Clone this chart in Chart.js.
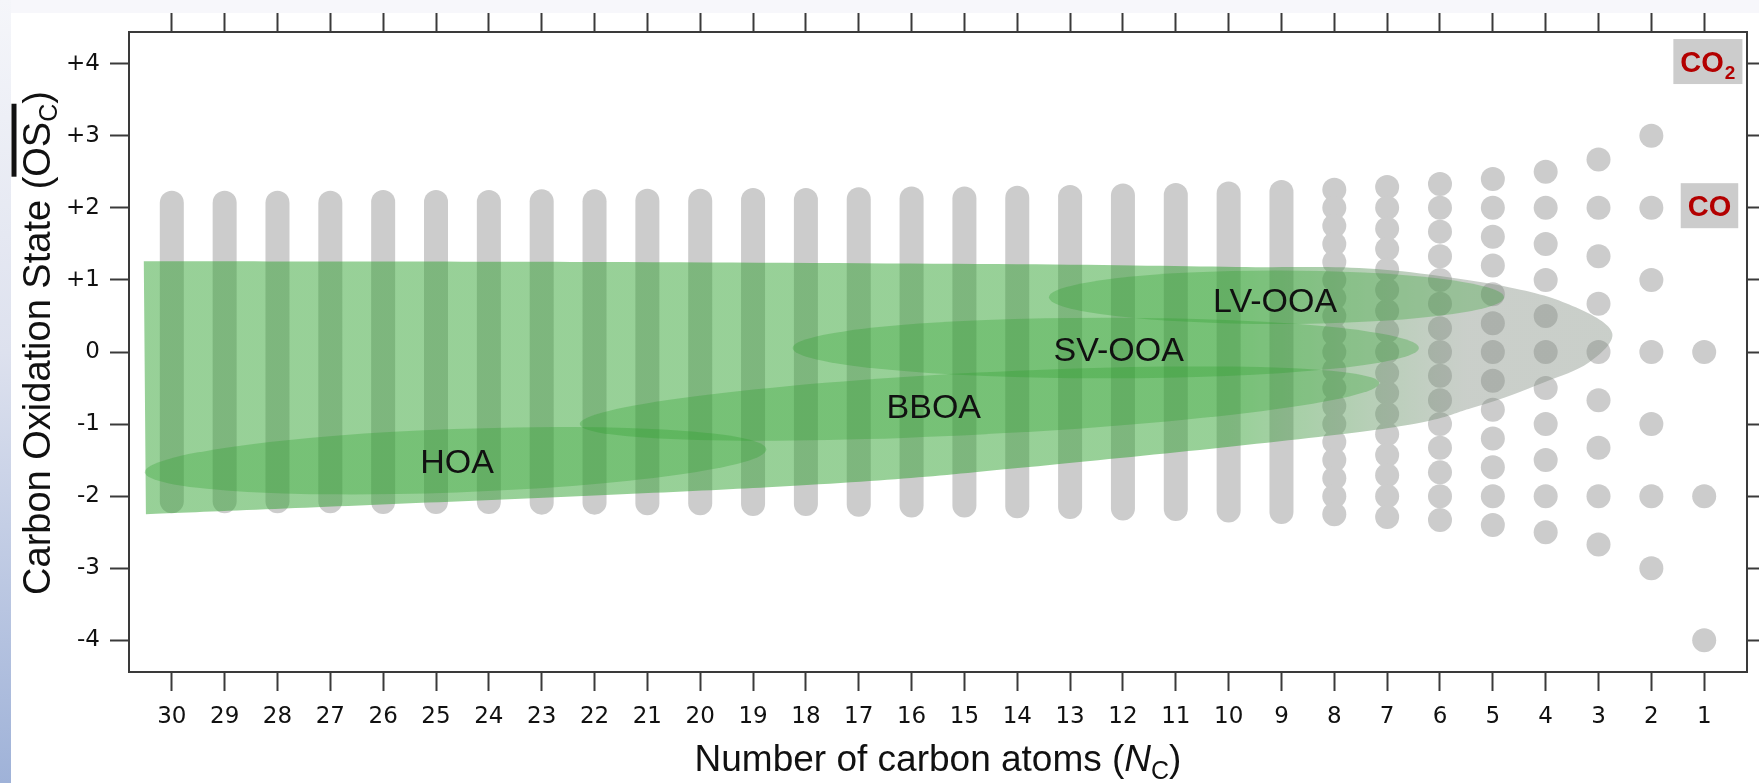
<!DOCTYPE html>
<html>
<head>
<meta charset="utf-8">
<script src="https://cdn.jsdelivr.net/npm/chart.js@4.4.1/dist/chart.umd.min.js"></script>
<style>
html,body{margin:0;padding:0;background:#fff;overflow:hidden}
canvas{display:block}
</style>
</head>
<body>
<canvas id="c" width="1759" height="783"></canvas>
<script>
// ---------- tick values / labels ----------
const nCTicks = [30,29,28,27,26,25,24,23,22,21,20,19,18,17,16,15,14,13,12,11,10,9,8,7,6,5,4,3,2,1];
const osTicks = [-4,-3,-2,-1,0,1,2,3,4];
const osTickLabels = ['-4','-3','-2','-1','0','+1','+2','+3','+4'];

// ---------- possible OSc values: individual dots for small molecules ----------
const osN1 = [0, -2, -4];
const osN2 = [3, 2, 1, 0, -1, -2, -3];
const osN3 = [2.67, 2, 1.33, 0.67, 0, -0.67, -1.33, -2, -2.67];
const osN4 = [2.5, 2, 1.5, 1, 0.5, 0, -0.5, -1, -1.5, -2, -2.5];
const osN5 = [2.4, 2, 1.6, 1.2, 0.8, 0.4, 0, -0.4, -0.8, -1.2, -1.6, -2, -2.4];
const osN6 = [2.33, 2, 1.67, 1.33, 1, 0.67, 0.33, 0, -0.33, -0.67, -1, -1.33, -1.67, -2, -2.33];
const osN7 = [2.29, 2, 1.71, 1.43, 1.14, 0.86, 0.57, 0.29, 0, -0.29, -0.57, -0.86, -1.14, -1.43, -1.71, -2, -2.29];
const osN8 = [2.25, 2, 1.75, 1.5, 1.25, 1, 0.75, 0.5, 0.25, 0, -0.25, -0.5, -0.75, -1, -1.25, -1.5, -1.75, -2, -2.25];

// ---------- dense columns (overlapping dots): extreme OSc per column ----------
const denseN      = [9, 10, 11, 12, 13, 14, 15, 16, 17, 18, 19, 20, 21, 22, 23, 24, 25, 26, 27, 28, 29, 30];
const denseTopOS  = [2.22, 2.20, 2.18, 2.17, 2.15, 2.14, 2.13, 2.13, 2.12, 2.11, 2.11, 2.10, 2.10, 2.09, 2.09, 2.08, 2.08, 2.08, 2.07, 2.07, 2.07, 2.07];
const denseLowOS  = [-2.22, -2.20, -2.18, -2.17, -2.15, -2.14, -2.13, -2.13, -2.12, -2.11, -2.11, -2.10, -2.10, -2.09, -2.09, -2.08, -2.08, -2.08, -2.07, -2.07, -2.07, -2.07];

// ---------- ambient OA envelope outline (nC, OSc) ----------
const envelopeN  = [30.53, 21.92, 14.38, 9.85, 7.21, 4.70, 3.43, 2.74, 3.19, 4.06, 5.32, 7.21, 13.43, 18.72, 30.49];
const envelopeOS = [1.26, 1.25, 1.22, 1.18, 1.15, 0.90, 0.62, 0.26, -0.15, -0.43, -0.76, -1.08, -1.57, -1.875, -2.25];

// ---------- factor ellipses (end points + half height) ----------
const factorNames     = ['HOA', 'BBOA', 'SV-OOA', 'LV-OOA'];
const factorLeftN     = [30.51, 22.28, 18.25, 13.40];
const factorLeftOS    = [-1.667, -1.00, 0.056, 0.76];
const factorRightN    = [18.75, 7.15, 6.40, 4.79];
const factorRightOS   = [-1.35, -0.43, 0.056, 0.76];
const factorHalfOS    = [0.44, 0.43, 0.42, 0.37];
const factorLabelN    = [24.6, 15.58, 12.08, 9.12];
const factorLabelOS   = [-1.68, -0.917, -0.125, 0.556];

// ---------- gas-phase species ----------
const speciesNames = ['CO', 'CO2'];
const speciesN     = [0.9, 0.93];
const speciesOS    = [2.03, 4.03];

// =====================================================================
const FONT = "'Liberation Sans', Arial, Helvetica, sans-serif";
const TICKFONT = "'DejaVu Sans', 'Liberation Sans', sans-serif";
Chart.defaults.font.family = FONT;
Chart.defaults.color = '#111';

const DOT = '#cccccc';
const AXIS = '#3a3a3a';

const dotColumns = [[1, osN1],[2, osN2],[3, osN3],[4, osN4],[5, osN5],[6, osN6],[7, osN7],[8, osN8]];
const dotData = [];
dotColumns.forEach(([n, vals]) => vals.forEach(v => dotData.push({x: n, y: v})));

const denseDatasets = denseN.map((n, i) => ({
  type: 'line',
  data: [{x: n, y: denseLowOS[i]}, {x: n, y: denseTopOS[i]}],
  borderColor: DOT,
  borderWidth: 24,
  borderCapStyle: 'round',
  pointRadius: 0,
  fill: false,
  tension: 0,
  order: 3
}));

const datasets = [
  {
    type: 'scatter',
    data: dotData,
    pointRadius: 12,
    pointBackgroundColor: DOT,
    pointBorderWidth: 0,
    order: 3
  },
  ...denseDatasets
];

function curveThrough(ctx, pts) {
  ctx.moveTo(pts[0][0], pts[0][1]);
  for (let i = 0; i < pts.length - 1; i++) {
    const p0 = pts[Math.max(i - 1, 0)], p1 = pts[i], p2 = pts[i + 1], p3 = pts[Math.min(i + 2, pts.length - 1)];
    const c1x = p1[0] + (p2[0] - p0[0]) / 6, c1y = p1[1] + (p2[1] - p0[1]) / 6;
    const c2x = p2[0] - (p3[0] - p1[0]) / 6, c2y = p2[1] - (p3[1] - p1[1]) / 6;
    ctx.bezierCurveTo(c1x, c1y, c2x, c2y, p2[0], p2[1]);
  }
}

function drawRuns(ctx, runs, x, y) {
  let cx = x;
  const overs = [];
  runs.forEach(r => {
    ctx.font = r.font;
    const w = ctx.measureText(r.t).width;
    ctx.fillText(r.t, cx, y + (r.dy || 0));
    if (r.over) overs.push([cx, w]);
    cx += w;
  });
  return overs;
}
function runsWidth(ctx, runs) {
  let w = 0;
  runs.forEach(r => { ctx.font = r.font; w += ctx.measureText(r.t).width; });
  return w;
}

const overlayPlugin = {
  id: 'overlay',
  beforeDraw(chart) {
    const c = chart.ctx, W = chart.width, H = chart.height;
    c.save();
    c.fillStyle = '#f7f7fb';
    c.fillRect(0, 0, W, H);
    c.fillStyle = '#ffffff';
    c.fillRect(11, 13, W - 11, H - 13);
    const g = c.createLinearGradient(0, 0, 0, H);
    g.addColorStop(0, '#f5f6fa');
    g.addColorStop(0.45, '#dde1ee');
    g.addColorStop(1, '#9fb2d8');
    c.fillStyle = g;
    c.fillRect(0, 0, 11, H);
    c.restore();
  },
  afterDatasetsDraw(chart) {
    const c = chart.ctx, xs = chart.scales.x, ys = chart.scales.y, a = chart.chartArea;
    c.save();
    c.beginPath();
    c.rect(a.left, a.top, a.right - a.left, a.bottom - a.top);
    c.clip();

    // envelope
    const pts = envelopeN.map((n, i) => [xs.getPixelForValue(n), ys.getPixelForValue(envelopeOS[i])]);
    const g = c.createLinearGradient(xs.getPixelForValue(10), 0, xs.getPixelForValue(5.5), 0);
    g.addColorStop(0, 'rgba(44,160,44,0.49)');
    g.addColorStop(1, 'rgba(128,140,128,0.42)');
    c.beginPath();
    curveThrough(c, pts);
    c.closePath();
    c.fillStyle = g;
    c.fill();

    // factor ellipses
    factorNames.forEach((name, i) => {
      const x1 = xs.getPixelForValue(factorLeftN[i]), y1 = ys.getPixelForValue(factorLeftOS[i]);
      const x2 = xs.getPixelForValue(factorRightN[i]), y2 = ys.getPixelForValue(factorRightOS[i]);
      const cx = (x1 + x2) / 2, cy = (y1 + y2) / 2;
      const rx = Math.hypot(x2 - x1, y2 - y1) / 2;
      const ry = Math.abs(ys.getPixelForValue(0) - ys.getPixelForValue(factorHalfOS[i]));
      const ang = Math.atan2(y2 - y1, x2 - x1);
      c.beginPath();
      c.ellipse(cx, cy, rx, ry, ang, 0, Math.PI * 2);
      c.fillStyle = 'rgba(44,160,44,0.30)';
      c.fill();
    });

    // factor labels
    c.fillStyle = '#111';
    c.font = '34px ' + FONT;
    c.textAlign = 'center';
    c.textBaseline = 'alphabetic';
    factorNames.forEach((name, i) => {
      c.fillText(name, xs.getPixelForValue(factorLabelN[i]), ys.getPixelForValue(factorLabelOS[i]));
    });
    c.restore();

    // species boxes
    c.save();
    speciesNames.forEach((name, i) => {
      const px = xs.getPixelForValue(speciesN[i]), py = ys.getPixelForValue(speciesOS[i]);
      const main = name.replace(/[0-9]+$/, '');
      const sub = name.slice(main.length);
      c.font = 'bold 29px ' + FONT;
      const wm = c.measureText(main).width;
      c.font = 'bold 19px ' + FONT;
      const ws = sub ? c.measureText(sub).width + 1 : 0;
      const tw = wm + ws;
      const bw = tw + 14, bh = 45;
      c.fillStyle = '#cccccc';
      c.fillRect(px - bw / 2, py - bh / 2, bw, bh);
      c.fillStyle = '#b30000';
      c.textAlign = 'left';
      c.textBaseline = 'alphabetic';
      c.font = 'bold 29px ' + FONT;
      c.fillText(main, px - tw / 2, py + 10.5);
      if (sub) {
        c.font = 'bold 19px ' + FONT;
        c.fillText(sub, px - tw / 2 + wm + 1, py + 17);
      }
    });
    c.restore();
  },
  afterDraw(chart) {
    const c = chart.ctx, a = chart.chartArea;
    c.save();
    c.fillStyle = '#111';
    c.textAlign = 'left';
    c.textBaseline = 'alphabetic';
    // x title
    const xRuns = [
      {t: 'Number of carbon atoms (', font: '37px ' + FONT},
      {t: 'N', font: 'italic 37px ' + FONT},
      {t: 'C', font: '25px ' + FONT, dy: 8},
      {t: ')', font: '37px ' + FONT}
    ];
    const xw = runsWidth(c, xRuns);
    drawRuns(c, xRuns, (a.left + a.right) / 2 - xw / 2, 771);

    // y title (rotated)
    const yRuns = [
      {t: 'Carbon Oxidation State (', font: '38px ' + FONT},
      {t: 'OS', font: '38px ' + FONT, over: true},
      {t: 'C', font: '25px ' + FONT, dy: 7, over: true},
      {t: ')', font: '38px ' + FONT}
    ];
    c.translate(50, 343);
    c.rotate(-Math.PI / 2);
    const yw = runsWidth(c, yRuns);
    const overs = drawRuns(c, yRuns, -yw / 2, 0);
    const ox = overs[0][0], oe = overs[overs.length - 1][0] + overs[overs.length - 1][1];
    c.fillRect(ox, -38.5, oe - ox, 5);
    c.restore();
  }
};

const axisGrid = {drawOnChartArea: false, drawTicks: true, tickLength: 19, tickWidth: 2, tickColor: AXIS};
const axisBorder = {display: true, width: 2, color: AXIS};

new Chart(document.getElementById('c'), {
  data: {datasets},
  options: {
    responsive: false,
    animation: false,
    devicePixelRatio: 1,
    events: [],
    layout: {padding: 0},
    plugins: {legend: {display: false}, tooltip: {enabled: false}},
    scales: {
      x: {
        type: 'linear', position: 'bottom', reverse: true, min: 0.19, max: 30.81,
        afterBuildTicks: s => { s.ticks = nCTicks.map(v => ({value: v})); },
        afterFit: s => { s.height = 111; },
        ticks: {font: {size: 23, family: TICKFONT}, color: '#111', padding: 12, maxRotation: 0, autoSkip: false, callback: v => String(v)},
        grid: axisGrid, border: axisBorder
      },
      xTop: {
        type: 'linear', position: 'top', reverse: true, min: 0.19, max: 30.81,
        afterBuildTicks: s => { s.ticks = nCTicks.map(v => ({value: v})); },
        afterFit: s => { s.height = 32; },
        ticks: {display: false},
        grid: axisGrid, border: axisBorder
      },
      y: {
        type: 'linear', position: 'left', min: -4.44, max: 4.44,
        afterBuildTicks: s => { s.ticks = osTicks.map(v => ({value: v})); },
        afterFit: s => { s.width = 129; },
        ticks: {font: {size: 23, family: TICKFONT}, color: '#111', padding: 10, callback: v => osTickLabels[osTicks.indexOf(v)]},
        grid: axisGrid, border: axisBorder
      },
      yRight: {
        type: 'linear', position: 'right', min: -4.44, max: 4.44,
        afterBuildTicks: s => { s.ticks = osTicks.map(v => ({value: v})); },
        afterFit: s => { s.width = 7; },
        ticks: {display: false},
        grid: axisGrid, border: axisBorder
      }
    }
  },
  plugins: [overlayPlugin]
});
</script>
</body>
</html>
